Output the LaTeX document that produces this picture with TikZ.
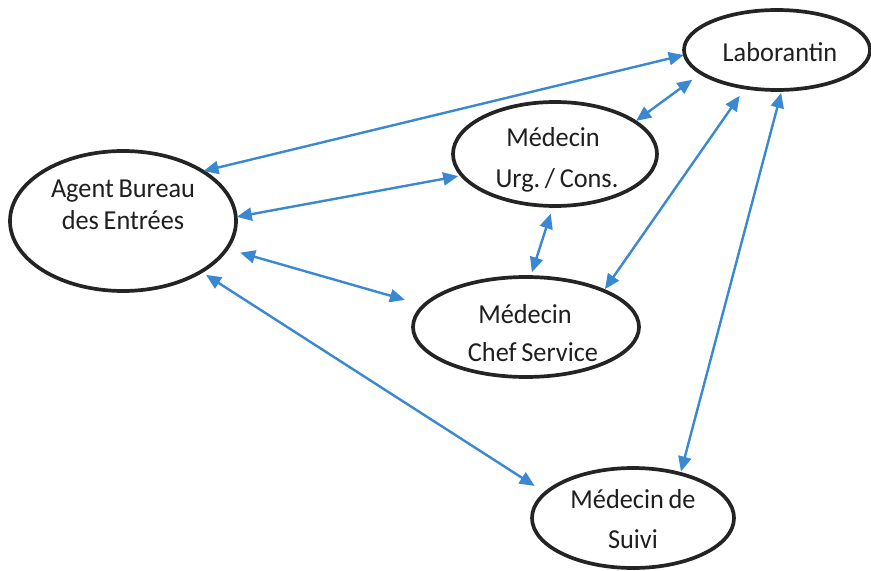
\documentclass[tikz,border=0pt]{standalone}
\usepackage{fontspec}
\setmainfont{Carlito}[FakeStretch=0.96]
\usetikzlibrary{arrows.meta,shapes.geometric}
\definecolor{linkblue}{HTML}{3A88D2}
\definecolor{rim}{HTML}{242424}
% label font with slightly tighter word spacing
\newcommand{\actorfont}{\fontsize{13.7}{16}\selectfont\frenchspacing
  \spaceskip=0.17em plus 0.05em minus 0.05em\relax}
\begin{document}
\begin{tikzpicture}[x=0.5pt,y=-0.5pt,
  actor/.style={ellipse,draw=rim,line width=1.85pt,inner sep=0pt,outer sep=0pt},
  lbl/.style={anchor=base,inner sep=0pt,text=black!88,font=\actorfont},
  link/.style={draw=linkblue,line width=1.2pt,
    {Triangle[length=7.5pt,width=6.5pt]}-{Triangle[length=7.5pt,width=6.5pt]}}]
\useasboundingbox[fill=white] (0,0) rectangle (871,571);

% actors
\node[actor,minimum width=93pt,minimum height=40pt] (lab) at (777,50) {};
\node[actor,minimum width=102pt,minimum height=52pt] (urg) at (555,154) {};
\node[actor,minimum width=113pt,minimum height=70pt] (agent) at (123,221) {};
\node[actor,minimum width=113pt,minimum height=50pt] (chef) at (526,327) {};
\node[actor,minimum width=101pt,minimum height=50pt] (suivi) at (633,518) {};

% labels
\node[lbl] (labT) at (780,62) {Laborantin};
\node[lbl] (urgT1) at (553,147) {Médecin};
\node[lbl] (urgT2) at (557,188) {Urg. / Cons.};
\node[lbl] (agentT1) at (123,198) {Agent Bureau};
\node[lbl] (agentT2) at (123,230) {des Entrées};
\node[lbl] (chefT1) at (525,323) {Médecin};
\node[lbl] (chefT2) at (533,361) {Chef Service};
\node[lbl] (suiviT1) at (633,508) {Médecin de};
\node[lbl] (suiviT2) at (633,548) {Suivi};

% exchanges
\draw[link,shorten <=0.5pt,shorten >=0.5pt] (lab.183) -- (agent.32);
\draw[link,shorten <=5.5pt,shorten >=0.7pt] (lab.197) -- (urg.22);
\draw[link,shorten <=5pt,shorten >=1pt] (lab.230) -- (chef.25);
\draw[link,shorten <=1.5pt,shorten >=1.2pt] (lab.277) -- (suivi.43);
\draw[link,shorten <=2pt,shorten >=0.5pt] (urg.193) -- (agent.2);
\draw[link,shorten <=4pt,shorten >=2.5pt] (urg.268) -- (chef.85);
\draw[link,shorten <=7pt,shorten >=10pt] (agent.345) -- (chef.168);
\draw[link,shorten <=3pt,shorten >=6.5pt] (agent.327) -- (suivi.164);
\end{tikzpicture}
\end{document}
